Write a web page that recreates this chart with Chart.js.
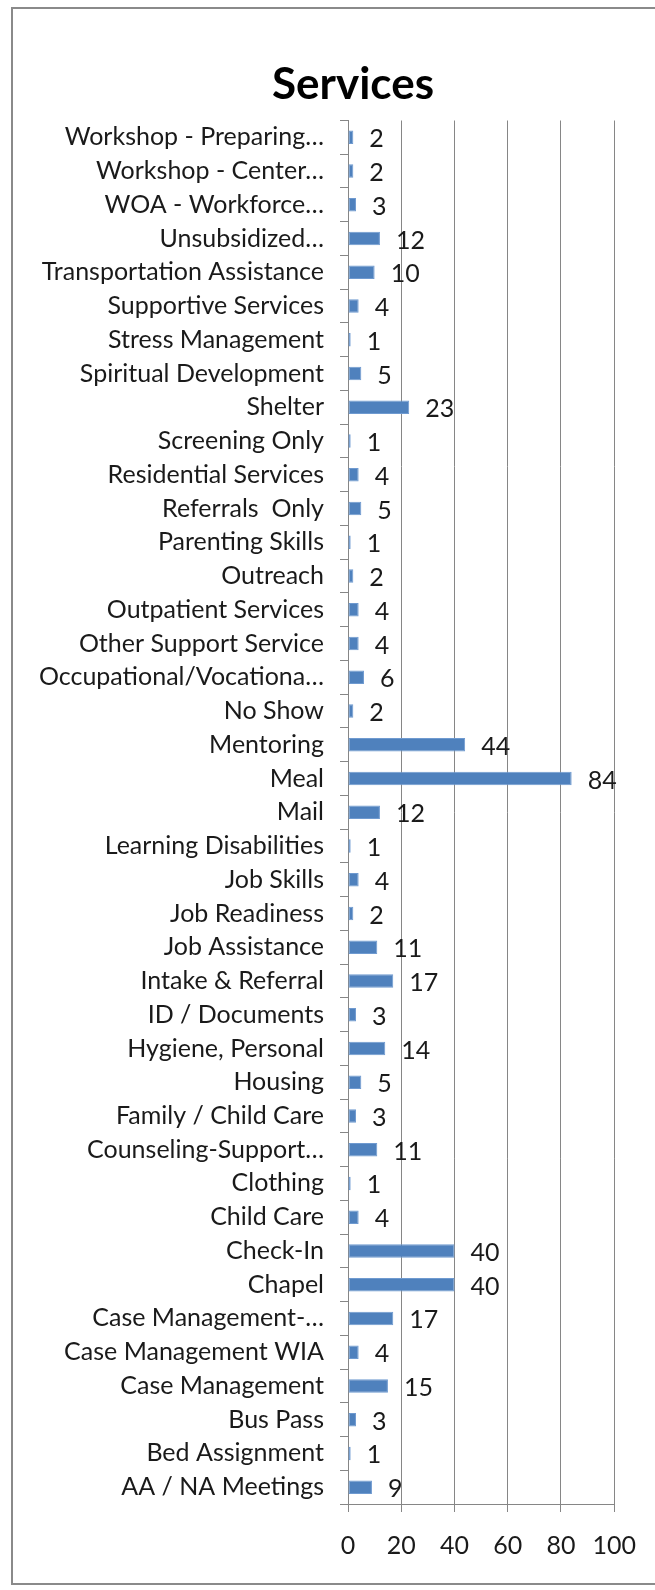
<!DOCTYPE html>
<html>
<head>
<meta charset="utf-8">
<script src="https://cdn.jsdelivr.net/npm/chart.js@4"></script>
<style>
  html, body { margin: 0; padding: 0; background: #fff; overflow: hidden; }
  #wrap { position: relative; width: 655px; height: 1590px; overflow: hidden; }
  #frame { position: absolute; left: 11px; top: 7px; width: 700px; height: 1578px; border: 2px solid #8a8a8a; box-sizing: border-box; }
  canvas { position: absolute; left: 0; top: 0; }
</style>
</head>
<body>
<div id="wrap">
  <div id="frame"></div>
  <canvas id="services-chart" width="655" height="1590"></canvas>
</div>
<script>
// services, top to bottom as in the chart
const categories = [
  'Workshop - Preparing…', 'Workshop - Center…', 'WOA - Workforce…', 'Unsubsidized…',
  'Transportation Assistance', 'Supportive Services', 'Stress Management', 'Spiritual Development',
  'Shelter', 'Screening Only', 'Residential Services', 'Referrals  Only', 'Parenting Skills',
  'Outreach', 'Outpatient Services', 'Other Support Service', 'Occupational/Vocationa…',
  'No Show', 'Mentoring', 'Meal', 'Mail', 'Learning Disabilities', 'Job Skills',
  'Job Readiness', 'Job Assistance', 'Intake & Referral', 'ID / Documents',
  'Hygiene, Personal', 'Housing', 'Family / Child Care', 'Counseling-Support…',
  'Clothing', 'Child Care', 'Check-In', 'Chapel', 'Case Management-…',
  'Case Management WIA', 'Case Management', 'Bus Pass', 'Bed Assignment', 'AA / NA Meetings'
];
const counts = [
  2, 2, 3, 12,
  10, 4, 1, 5,
  23, 1, 4, 5, 1,
  2, 4, 4, 6,
  2, 44, 84, 12, 1, 4,
  2, 11, 17, 3,
  14, 5, 3, 11,
  1, 4, 40, 40, 17,
  4, 15, 3, 1, 9
];
const xTicks = [0, 20, 40, 60, 80, 100];

const labelFont = { family: 'Lato', size: 25 };
const gridGray = '#868686';

// number next to each bar
const valueLabels = {
  id: 'valueLabels',
  afterDatasetsDraw(chart) {
    const ctx = chart.ctx;
    const meta = chart.getDatasetMeta(0);
    ctx.save();
    ctx.font = labelFont.size + 'px ' + labelFont.family;
    ctx.fillStyle = '#1a1a1a';
    ctx.textAlign = 'left';
    ctx.textBaseline = 'middle';
    meta.data.forEach((bar, i) => {
      ctx.fillText(String(counts[i]), bar.x + 16, bar.y + 2);
    });
    ctx.restore();
  }
};

// the left padding only exists to centre the title over the frame;
// let the category labels run into it instead of being clipped
const unclipLabels = {
  id: 'unclipLabels',
  afterLayout(chart) {
    chart.scales.y.left = 0;
  }
};

const ctx = document.getElementById('services-chart').getContext('2d');

new Chart(ctx, {
  type: 'bar',
  data: {
    labels: categories,
    datasets: [{
      data: counts,
      backgroundColor: '#4F81BD',
      borderColor: '#6f9ad0',
      borderWidth: 1,
      borderSkipped: false,
      categoryPercentage: 1,
      barPercentage: 0.4
    }]
  },
  options: {
    indexAxis: 'y',
    responsive: false,
    animation: false,
    layout: { padding: { left: 87, right: 36, top: 0, bottom: 0 } },
    plugins: {
      legend: { display: false },
      tooltip: { enabled: false },
      title: {
        display: true,
        text: 'Services',
        color: '#000',
        font: { family: 'Lato', size: 44, weight: 'bold', lineHeight: 1.2 },
        padding: { top: 58, bottom: 9.7 }
      }
    },
    scales: {
      x: {
        min: 0,
        max: 100,
        afterBuildTicks(scale) { scale.ticks = xTicks.map(v => ({ value: v })); },
        afterFit(scale) { scale.height = 86; },
        grid: { color: gridGray, lineWidth: 1, tickLength: 8, drawTicks: true },
        border: { color: gridGray, width: 1 },
        ticks: { color: '#1a1a1a', font: labelFont, padding: 19, maxRotation: 0 }
      },
      y: {
        afterFit(scale) { scale.width = 261; },
        grid: { display: true, drawOnChartArea: false, offset: true, color: gridGray, tickLength: 8 },
        border: { color: gridGray, width: 1 },
        ticks: { color: '#1a1a1a', font: labelFont, padding: 16, autoSkip: false }
      }
    }
  },
  plugins: [valueLabels, unclipLabels]
});
</script>
</body>
</html>
